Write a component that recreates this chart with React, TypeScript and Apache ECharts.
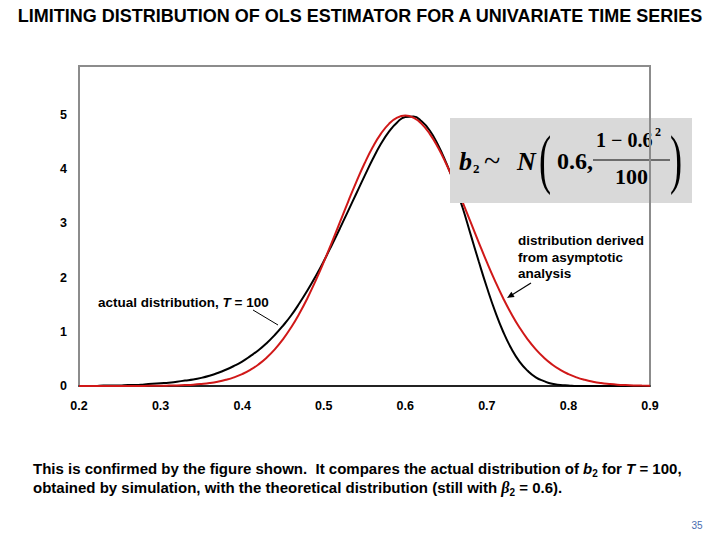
import React, { useEffect, useRef } from "react";
import * as echarts from "echarts";

const titleText = "LIMITING DISTRIBUTION OF OLS ESTIMATOR FOR A UNIVARIATE TIME SERIES";

const xValues = [
  0.20, 0.21, 0.22, 0.23, 0.24, 0.25, 0.26, 0.27, 0.28, 0.29,
  0.30, 0.31, 0.32, 0.33, 0.34, 0.35, 0.36, 0.37, 0.38, 0.39,
  0.40, 0.41, 0.42, 0.43, 0.44, 0.45, 0.46, 0.47, 0.48, 0.49,
  0.50, 0.51, 0.52, 0.53, 0.54, 0.55, 0.56, 0.57, 0.58, 0.59,
  0.60, 0.61, 0.62, 0.63, 0.64, 0.65, 0.66, 0.67, 0.68, 0.69,
  0.70, 0.71, 0.72, 0.73, 0.74, 0.75, 0.76, 0.77, 0.78, 0.79,
  0.80, 0.81, 0.82, 0.83, 0.84, 0.85, 0.86, 0.87, 0.88, 0.89,
  0.90,
];

// actual (simulated) distribution, T = 100
const actualDensity = [
  0.00, 0.00, 0.00, 0.01, 0.01, 0.01, 0.02, 0.02, 0.03, 0.04,
  0.05, 0.06, 0.08, 0.10, 0.12, 0.15, 0.19, 0.24, 0.30, 0.37,
  0.45, 0.55, 0.66, 0.79, 0.94, 1.11, 1.30, 1.52, 1.76, 2.02,
  2.30, 2.60, 2.91, 3.23, 3.55, 3.87, 4.18, 4.46, 4.69, 4.86,
  4.96, 4.97, 4.88, 4.71, 4.45, 4.12, 3.74, 3.30, 2.80, 2.30,
  1.82, 1.38, 1.00, 0.69, 0.45, 0.28, 0.16, 0.09, 0.04, 0.02,
  0.01, 0.00, 0.00, 0.00, 0.00, 0.00, 0.00, 0.00, 0.00, 0.00,
  0.00,
];

// distribution derived from asymptotic analysis
const asymptoticDensity = [
  0.000, 0.000, 0.000, 0.000, 0.000, 0.000, 0.001, 0.001, 0.002, 0.003,
  0.004, 0.007, 0.011, 0.017, 0.025, 0.038, 0.055, 0.080, 0.114, 0.159,
  0.219, 0.297, 0.397, 0.522, 0.675, 0.860, 1.079, 1.332, 1.619, 1.938,
  2.283, 2.649, 3.025, 3.401, 3.764, 4.102, 4.401, 4.648, 4.833, 4.948,
  4.987, 4.948, 4.833, 4.648, 4.401, 4.102, 3.764, 3.401, 3.025, 2.649,
  2.283, 1.938, 1.619, 1.332, 1.079, 0.860, 0.675, 0.522, 0.397, 0.297,
  0.219, 0.159, 0.114, 0.080, 0.055, 0.038, 0.025, 0.017, 0.011, 0.007,
  0.004,
];

const xTickMin = 0.2;
const xTickMax = 0.9;
const yTickMax = 5.9;

const SANS = "Liberation Sans";
const SERIF = "Liberation Serif";

export default function App() {
  const ref = useRef<HTMLDivElement>(null);

  useEffect(() => {
    if (!ref.current) return;
    const chart = echarts.init(ref.current, undefined, { renderer: "svg" });

    const blackData = xValues.map((x, i) => [x, actualDensity[i]]);
    const redData = xValues.map((x, i) => [x, asymptoticDensity[i]]);

    const txt = (text: string, x: number, y: number, extra: any = {}, z = 10, more: any = {}) => ({
      type: "text",
      x,
      y,
      z,
      ...more,
      style: {
        text,
        fill: "#000",
        fontFamily: SANS,
        fontSize: 13.5,
        fontWeight: "bold",
        align: "left",
        verticalAlign: "middle",
        ...extra,
      },
    });

    const option: any = {
      animation: false,
      backgroundColor: "#ffffff",
      title: {
        text: titleText,
        left: "center",
        top: 2,
        textStyle: {
          fontFamily: SANS,
          fontSize: 18,
          fontWeight: "bold",
          color: "#000",
        },
      },
      grid: {
        left: 79,
        right: 70,
        top: 66,
        bottom: 154,
        show: true,
        borderColor: "#8c8c8c",
        borderWidth: 2,
        backgroundColor: "transparent",
      },
      xAxis: {
        type: "value",
        min: xTickMin,
        max: xTickMax,
        interval: 0.1,
        axisLine: { show: true, lineStyle: { color: "#000", width: 1.5 } },
        axisTick: { show: false },
        splitLine: { show: false },
        axisLabel: {
          margin: 13,
          color: "#000",
          fontFamily: SANS,
          fontSize: 12.5,
          fontWeight: "bold",
          formatter: (v: number) => v.toFixed(1),
        },
      },
      yAxis: {
        type: "value",
        min: 0,
        max: yTickMax,
        interval: 1,
        axisLine: { show: true, lineStyle: { color: "#8c8c8c", width: 2 } },
        axisTick: { show: false },
        splitLine: { show: false },
        axisLabel: {
          margin: 12,
          color: "#000",
          fontFamily: SANS,
          fontSize: 12.5,
          fontWeight: "bold",
          formatter: (v: number) => (Math.abs(v - Math.round(v)) < 1e-9 ? String(Math.round(v)) : ""),
        },
      },
      series: [
        {
          name: "actual distribution, T = 100",
          type: "line",
          data: blackData,
          showSymbol: false,
          smooth: true,
          lineStyle: { color: "#000", width: 2 },
          z: 2,
        },
        {
          name: "distribution derived from asymptotic analysis",
          type: "line",
          data: redData,
          showSymbol: false,
          smooth: true,
          lineStyle: { color: "#d01818", width: 2 },
          z: 3,
        },
      ],
      graphic: [
        // formula box
        {
          type: "rect",
          z: 5,
          shape: { x: 450, y: 118, width: 242, height: 85 },
          style: { fill: "#d9d9d9" },
        },
        txt("b", 459, 161, { fontFamily: SERIF, fontStyle: "italic", fontSize: 26 }, 6),
        txt("2", 473, 168, { fontFamily: SERIF, fontSize: 13 }, 6),
        txt("~", 484, 160, { fontFamily: SERIF, fontSize: 30, fontWeight: "normal" }, 6),
        txt("N", 517, 161, { fontFamily: SERIF, fontStyle: "italic", fontSize: 26 }, 6),
        txt("(", 539, 159, { fontFamily: SERIF, fontSize: 66, fontWeight: "normal" }, 6, { scaleX: 0.55 }),
        txt("0.6,", 557, 161, { fontFamily: SERIF, fontSize: 24 }, 6),
        txt("1 \u2212 0.6", 596, 140, { fontFamily: SERIF, fontSize: 20 }, 6),
        txt("2", 655, 132, { fontFamily: SERIF, fontSize: 12 }, 6),
        {
          type: "line",
          z: 6,
          shape: { x1: 593, y1: 160, x2: 670, y2: 160 },
          style: { stroke: "#000", lineWidth: 1 },
        },
        txt("100", 615, 176, { fontFamily: SERIF, fontSize: 22 }, 6),
        txt(")", 670, 159, { fontFamily: SERIF, fontSize: 66, fontWeight: "normal" }, 6, { scaleX: 0.55 }),
        // plot border passing over the box
        {
          type: "line",
          z: 7,
          shape: { x1: 650, y1: 118, x2: 650, y2: 203 },
          style: { stroke: "#8c8c8c", lineWidth: 2 },
        },
        // asymptotic annotation
        txt("distribution derived", 518, 240),
        txt("from asymptotic", 518, 257),
        txt("analysis", 518, 273),
        {
          type: "line",
          z: 10,
          shape: { x1: 531, y1: 283, x2: 511, y2: 295.5 },
          style: { stroke: "#000", lineWidth: 1.2 },
        },
        {
          type: "polygon",
          z: 10,
          shape: { points: [[507, 298], [514.6, 297], [511.4, 291.8]] },
          style: { fill: "#000" },
        },
        // actual annotation
        {
          type: "text",
          z: 10,
          x: 98,
          y: 302,
          style: {
            text: "actual distribution, {i|T} = 100",
            fill: "#000",
            fontFamily: SANS,
            fontSize: 13.5,
            fontWeight: "bold",
            align: "left",
            verticalAlign: "middle",
            rich: {
              i: { fontFamily: SANS, fontSize: 13.5, fontWeight: "bold", fontStyle: "italic", fill: "#000" },
            },
          },
        },
        {
          type: "line",
          z: 10,
          shape: { x1: 253, y1: 310, x2: 278, y2: 325 },
          style: { stroke: "#000", lineWidth: 1 },
        },
        // caption
        {
          type: "text",
          z: 10,
          x: 33,
          y: 468,
          style: {
            text: "This is confirmed by the figure shown.  It compares the actual distribution of {bi|b}{sub|2} for {i|T} = 100,",
            fill: "#000",
            fontFamily: SANS,
            fontSize: 15,
            fontWeight: "bold",
            align: "left",
            verticalAlign: "middle",
            rich: {
              bi: { fontFamily: SANS, fontSize: 15, fontWeight: "bold", fontStyle: "italic", fill: "#000" },
              i: { fontFamily: SANS, fontSize: 15, fontWeight: "bold", fontStyle: "italic", fill: "#000" },
              sub: { fontFamily: SANS, fontSize: 10, fontWeight: "bold", fill: "#000", padding: [10, 0, 0, 0] },
            },
          },
        },
        {
          type: "text",
          z: 10,
          x: 33,
          y: 487,
          style: {
            text: "obtained by simulation, with the theoretical distribution (still with {bi|\u03b2}{sub|2} = 0.6).",
            fill: "#000",
            fontFamily: SANS,
            fontSize: 15,
            fontWeight: "bold",
            align: "left",
            verticalAlign: "middle",
            rich: {
              bi: { fontFamily: SERIF, fontSize: 16, fontWeight: "bold", fontStyle: "italic", fill: "#000" },
              sub: { fontFamily: SANS, fontSize: 10, fontWeight: "bold", fill: "#000", padding: [10, 0, 0, 0] },
            },
          },
        },
        txt("35", 697, 525, { fontSize: 10, fontWeight: "normal", fill: "#4a6cb0", align: "center" }),
      ],
    };

    chart.setOption(option);
    return () => chart.dispose();
  }, []);

  return (
    <div
      ref={ref}
      style={{ position: "fixed", left: 0, top: 0, width: 720, height: 540, background: "#fff" }}
    />
  );
}
